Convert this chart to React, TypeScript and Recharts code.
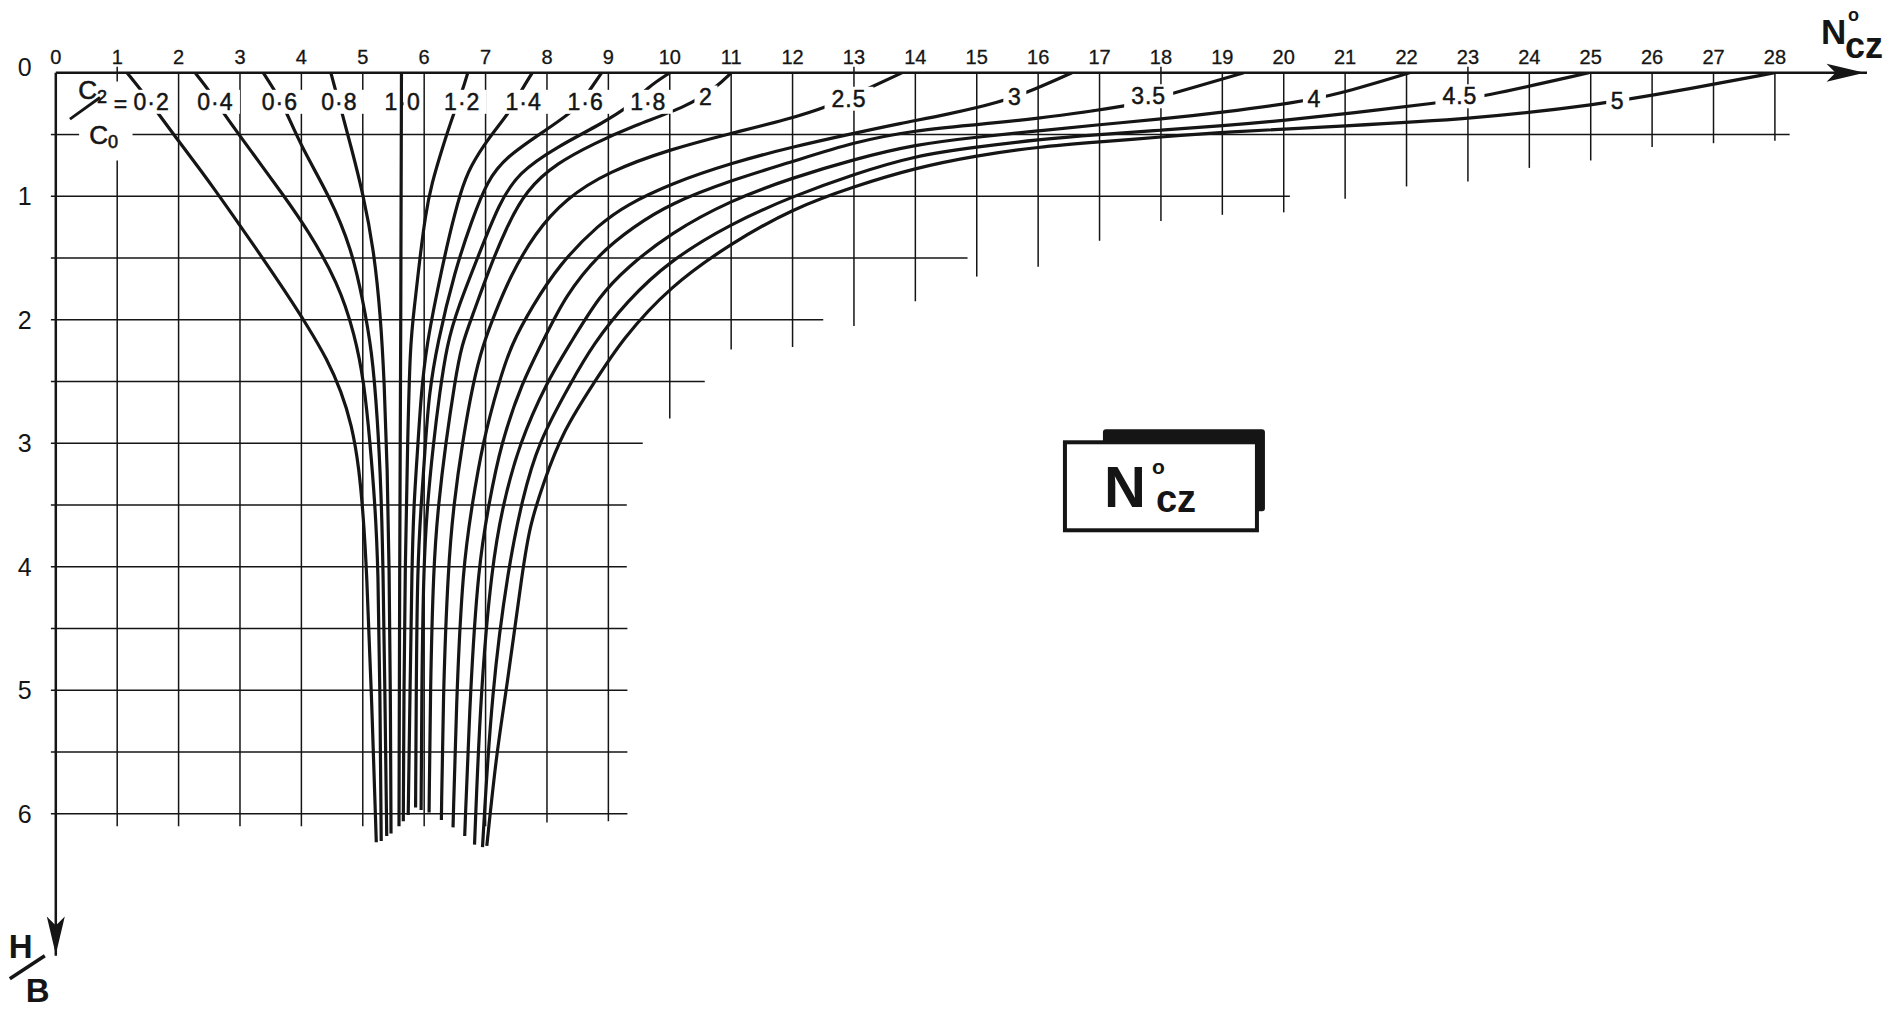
import { LineChart, Line, XAxis, YAxis, ReferenceLine, ReferenceDot } from "recharts";

const FONT = '"Liberation Sans", Arial, sans-serif';
const INK = "#151515";

// N°cz along the top, H/B going down
const xTicks = [0, 1, 2, 3, 4, 5, 6, 7, 8, 9, 10, 11, 12, 13, 14, 15, 16, 17, 18, 19, 20, 21, 22, 23, 24, 25, 26, 27, 28];
const yTicks = [0, 1, 2, 3, 4, 5, 6];

// curves as [N°cz, H/B]
const c02 = [[1.16, 0], [1.42, 0.16], [1.6, 0.285], [2.1, 0.62], [2.5, 0.88], [3.3, 1.45], [3.75, 1.78], [4.1, 2.05], [4.42, 2.32], [4.65, 2.58], [4.82, 2.85], [4.94, 3.2], [5.01, 3.6], [5.06, 4.0], [5.14, 5.0], [5.22, 6.23]];
const c04 = [[2.27, 0], [2.51, 0.15], [2.69, 0.3], [3.16, 0.62], [3.72, 1.0], [4.1, 1.27], [4.6, 1.7], [4.87, 2.12], [5.02, 2.5], [5.12, 3.0], [5.2, 3.5], [5.25, 4.0], [5.28, 5.0], [5.3, 6.22]];
const c06 = [[3.38, 0], [3.6, 0.17], [3.74, 0.3], [4.02, 0.62], [4.46, 1.0], [4.82, 1.43], [5.0, 1.84], [5.15, 2.25], [5.24, 2.8], [5.3, 3.4], [5.33, 4.0], [5.36, 5.0], [5.39, 6.18]];
const c08 = [[4.48, 0], [4.56, 0.15], [4.65, 0.3], [4.82, 0.62], [5.0, 0.97], [5.18, 1.43], [5.29, 1.97], [5.35, 2.5], [5.4, 3.2], [5.43, 4.0], [5.45, 5.0], [5.46, 6.16]];
const c10 = [[5.63, 0], [5.62, 2.0], [5.6, 4.0], [5.59, 6.1]];
const c12 = [[6.71, 0], [6.62, 0.15], [6.5, 0.3], [6.3, 0.6], [6.12, 0.9], [6.02, 1.15], [5.93, 1.5], [5.84, 1.9], [5.77, 2.2], [5.73, 3.0], [5.69, 4.0], [5.67, 5.0], [5.66, 6.06]];
const c14 = [[7.76, 0], [7.56, 0.16], [7.42, 0.3], [7.03, 0.54], [6.75, 0.76], [6.6, 0.95], [6.4, 1.33], [6.22, 1.75], [6.04, 2.2], [5.95, 2.6], [5.9, 3.0], [5.83, 3.5], [5.8, 4.0], [5.77, 5.0], [5.74, 6.01]];
const c16 = [[8.89, 0], [8.67, 0.16], [8.47, 0.3], [7.9, 0.49], [7.34, 0.68], [7.03, 0.87], [6.78, 1.19], [6.5, 1.6], [6.21, 2.2], [6.08, 2.6], [6.02, 3.0], [5.95, 3.5], [5.89, 4.0], [5.87, 5.0], [5.86, 5.95]];
const c18 = [[10.0, 0], [9.63, 0.12], [9.38, 0.26], [8.9, 0.41], [8.16, 0.6], [7.53, 0.81], [7.22, 1.06], [6.9, 1.46], [6.55, 1.9], [6.37, 2.2], [6.25, 2.6], [6.15, 3.0], [6.05, 3.5], [5.99, 4.0], [5.96, 5.0], [5.95, 5.97]];
const c20 = [[11.0, 0], [10.75, 0.12], [10.3, 0.27], [9.4, 0.43], [8.78, 0.57], [8.16, 0.73], [7.66, 0.95], [7.34, 1.25], [7.05, 1.6], [6.8, 1.95], [6.61, 2.2], [6.5, 2.5], [6.35, 3.0], [6.23, 3.5], [6.15, 4.0], [6.1, 5.0], [6.08, 5.99]];
const c25 = [[13.78, 0], [13.2, 0.135], [12.6, 0.27], [11.9, 0.38], [11.0, 0.49], [10.0, 0.62], [9.0, 0.8], [8.3, 1.02], [7.8, 1.3], [7.4, 1.65], [7.15, 1.95], [6.96, 2.2], [6.8, 2.5], [6.62, 3.0], [6.48, 3.5], [6.39, 4.0], [6.31, 5.0], [6.28, 6.05]];
const c30 = [[16.55, 0], [15.95, 0.134], [15.38, 0.24], [14.5, 0.34], [13.75, 0.41], [13.0, 0.49], [12.0, 0.6], [11.0, 0.73], [10.0, 0.9], [9.3, 1.07], [8.86, 1.22], [8.2, 1.55], [7.75, 1.9], [7.42, 2.2], [7.22, 2.5], [6.95, 3.0], [6.78, 3.5], [6.63, 4.0], [6.53, 5.0], [6.47, 6.11]];
const c35 = [[19.35, 0], [18.1, 0.18], [17.44, 0.27], [17.0, 0.3], [16.0, 0.37], [15.0, 0.42], [14.0, 0.465], [13.0, 0.56], [12.0, 0.72], [11.0, 0.87], [10.0, 1.06], [9.4, 1.25], [8.86, 1.46], [8.3, 1.8], [7.91, 2.2], [7.6, 2.5], [7.25, 3.0], [7.05, 3.5], [6.88, 4.0], [6.75, 5.0], [6.66, 6.18]];
const c40 = [[22.05, 0], [20.85, 0.18], [20.2, 0.24], [19.0, 0.32], [18.0, 0.375], [17.0, 0.42], [16.0, 0.47], [15.0, 0.52], [14.0, 0.58], [13.0, 0.7], [12.0, 0.85], [11.0, 1.03], [10.0, 1.3], [9.3, 1.58], [8.86, 1.8], [8.37, 2.2], [8.0, 2.5], [7.55, 3.0], [7.28, 3.5], [7.1, 4.0], [6.92, 5.0], [6.82, 6.25]];
const c45 = [[24.97, 0], [23.19, 0.2], [22.54, 0.24], [21.04, 0.33], [20.03, 0.385], [19.0, 0.43], [18.0, 0.465], [17.0, 0.5], [16.0, 0.54], [15.0, 0.6], [14.0, 0.67], [13.0, 0.82], [12.0, 1.0], [11.0, 1.22], [10.0, 1.52], [9.3, 1.85], [8.75, 2.2], [8.4, 2.5], [7.85, 3.0], [7.6, 3.45], [7.37, 4.0], [7.1, 5.0], [6.95, 6.27]];
const c50 = [[28.0, 0], [26.5, 0.14], [25.1, 0.26], [23.05, 0.375], [21.0, 0.43], [19.0, 0.48], [18.0, 0.52], [17.0, 0.56], [16.0, 0.6], [15.0, 0.67], [14.0, 0.77], [13.0, 0.92], [12.0, 1.1], [11.0, 1.38], [10.0, 1.73], [9.22, 2.16], [8.78, 2.5], [8.27, 2.89], [7.94, 3.32], [7.72, 3.67], [7.61, 4.0], [7.34, 5.0], [7.18, 5.5], [7.02, 6.26]];

const curves = [c02, c04, c06, c08, c10, c12, c14, c16, c18, c20, c25, c30, c35, c40, c45, c50];

// C2/C0 labels and where they sit on the curves
const ratioText = ["0·2", "0·4", "0·6", "0·8", "1·0", "1·2", "1·4", "1·6", "1·8", "2", "2.5", "3", "3.5", "4", "4.5", "5"];
const ratioX = [1.56, 2.6, 3.65, 4.62, 5.65, 6.62, 7.62, 8.63, 9.65, 10.59, 12.92, 15.62, 17.8, 20.5, 22.87, 25.44];
const ratioY = [0.235, 0.235, 0.235, 0.235, 0.235, 0.235, 0.235, 0.235, 0.235, 0.2, 0.21, 0.2, 0.19, 0.21, 0.19, 0.23];

// grid pieces: vertical lines [x, from, to], horizontal lines [y, from, to]
const vGridX = [1, 1, 2, 3, 4, 5, 6, 7, 8, 9, 10, 11, 12, 13, 14, 15, 16, 17, 18, 19, 20, 21, 22, 23, 24, 25, 26, 27, 28];
const vGridFrom = [-0.05, 0.71, 0, 0, 0, 0, 0, 0, 0, 0, 0, 0, 0, -0.05, 0, 0, 0, 0, -0.05, 0, 0, 0, 0, -0.05, 0, 0, 0, 0, 0];
const vGridTo = [0.07, 6.1, 6.1, 6.1, 6.1, 6.1, 6.1, 6.1, 6.07, 6.06, 2.8, 2.24, 2.22, 2.05, 1.85, 1.65, 1.57, 1.36, 1.2, 1.15, 1.13, 1.02, 0.92, 0.88, 0.77, 0.71, 0.6, 0.57, 0.55];
const hGridY = [0.5, 0.5, 1, 1.5, 2, 2.5, 3, 3.5, 4, 4.5, 5, 5.5, 6];
const hGridFrom = [-0.08, 1.25, -0.08, -0.08, -0.08, -0.08, -0.08, -0.08, -0.08, -0.08, -0.08, -0.08, -0.08];
const hGridTo = [0.38, 28.24, 20.1, 14.85, 12.5, 10.57, 9.56, 9.3, 9.3, 9.31, 9.31, 9.31, 9.31];

const toPoints = (arr: number[][]) => arr.map(([x, y]) => ({ x, y }));

function TopTick({ x, y, payload }: any) {
  return (
    <text x={x} y={y} textAnchor="middle" fontSize={20} fontFamily={FONT} fill={INK} stroke={INK} strokeWidth={0.3}>
      {payload.value}
    </text>
  );
}

function LeftTick({ x, y, payload }: any) {
  const lift = payload.value === 0 ? -6 : 0;
  return (
    <text x={x - 31} y={y + 9 + lift} textAnchor="middle" fontSize={25} fontFamily={FONT} fill={INK}>
      {payload.value}
    </text>
  );
}

const curveLabel = (text: string, boxed: boolean) => (p: any) => {
  const w = text.length * 13 + 10;
  return (
    <g>
      {boxed && <rect x={p.cx - w / 2} y={p.cy - 12} width={w} height={24} fill="#fff" />}
      <text x={p.cx} y={p.cy + 8} textAnchor="middle" fontSize={23} fontFamily={FONT} fill={INK} stroke={INK} strokeWidth={0.5} letterSpacing={1}>
        {text}
      </text>
    </g>
  );
};

const subLabel = (main: string, sub: string) => (p: any) => (
  <text x={p.cx} y={p.cy + 9} textAnchor="middle" fontSize={26} fontFamily={FONT} fill={INK} stroke={INK} strokeWidth={0.6}>
    {main}
    <tspan fontSize={18} dy={4}>{sub}</tspan>
  </text>
);

function ArrowRight({ cx, cy }: any) {
  return <path d={`M${cx},${cy} L${cx - 38},${cy - 9} L${cx - 29},${cy} L${cx - 38},${cy + 9} Z`} fill={INK} />;
}

function ArrowDown({ cx, cy }: any) {
  return <path d={`M${cx},${cy} L${cx - 9},${cy - 38} L${cx},${cy - 29} L${cx + 9},${cy - 38} Z`} fill={INK} />;
}

function NczBox({ cx, cy }: any) {
  return (
    <g>
      <rect x={cx - 58} y={cy - 56} width={162} height={82} rx={3} fill={INK} />
      <rect x={cx - 96} y={cy - 43} width={192} height={88} fill="#fff" stroke={INK} strokeWidth={4} />
      <text fontFamily={FONT} fill={INK} fontWeight="bold">
        <tspan x={cx - 57} y={cy + 22} fontSize={58}>N</tspan>
        <tspan x={cx - 9} y={cy - 11} fontSize={21}>o</tspan>
        <tspan x={cx - 5} y={cy + 27} fontSize={38}>cz</tspan>
      </text>
    </g>
  );
}

function AxisTitleX({ cx, cy }: any) {
  return (
    <text fontFamily={FONT} fill={INK} fontWeight="bold">
      <tspan x={cx - 46} y={cy - 29} fontSize={35}>N</tspan>
      <tspan x={cx - 19} y={cy - 52} fontSize={18}>o</tspan>
      <tspan x={cx - 22} y={cy - 15} fontSize={36}>cz</tspan>
    </text>
  );
}

function AxisTitleY({ cx, cy }: any) {
  return (
    <g>
      <text fontFamily={FONT} fill={INK} fontWeight="bold" fontSize={33}>
        <tspan x={cx - 47} y={cy + 2}>H</tspan>
        <tspan x={cx - 30} y={cy + 46}>B</tspan>
      </text>
      <line x1={cx - 46} y1={cy + 23} x2={cx - 11} y2={cy} stroke={INK} strokeWidth={3.5} />
    </g>
  );
}

export default function App() {
  return (
    <div style={{ position: "fixed", left: 0, top: 0, width: 1902, height: 1013, background: "#fff", overflow: "hidden" }}>
      <LineChart width={1902} height={1013} margin={{ top: 32.8, right: 35, bottom: 57.2, left: 0 }}>
        <XAxis
          type="number"
          dataKey="x"
          orientation="top"
          height={40}
          domain={[0, 29.5]}
          allowDataOverflow
          ticks={xTicks}
          interval={0}
          tick={<TopTick />}
          tickLine={false}
          tickSize={0}
          tickMargin={9}
          axisLine={{ stroke: INK, strokeWidth: 2.5 }}
        />
        <YAxis
          type="number"
          dataKey="y"
          reversed
          width={55.8}
          domain={[0, 7.15]}
          allowDataOverflow
          ticks={yTicks}
          interval={0}
          tick={<LeftTick />}
          tickLine={false}
          tickSize={0}
          tickMargin={0}
          axisLine={{ stroke: INK, strokeWidth: 2.5 }}
        />

        {vGridX.map((x, i) => (
          <ReferenceLine
            key={`v${i}`}
            segment={[{ x, y: vGridFrom[i] }, { x, y: vGridTo[i] }]}
            stroke={INK}
            strokeWidth={1.5}
            ifOverflow="visible"
          />
        ))}
        {hGridY.map((y, i) => (
          <ReferenceLine
            key={`h${i}`}
            segment={[{ x: hGridFrom[i], y }, { x: hGridTo[i], y }]}
            stroke={INK}
            strokeWidth={1.5}
            ifOverflow="visible"
          />
        ))}

        {curves.map((c, i) => (
          <Line
            key={ratioText[i]}
            data={toPoints(c)}
            dataKey="y"
            type="basis"
            stroke={INK}
            strokeWidth={3.2}
            dot={false}
            activeDot={false}
            isAnimationActive={false}
          />
        ))}

        {ratioText.map((t, i) => (
          <ReferenceDot
            key={`l${i}`}
            x={ratioX[i]}
            y={ratioY[i]}
            r={0}
            ifOverflow="visible"
            shape={curveLabel(t, t !== "1·0")}
          />
        ))}

        <ReferenceDot x={0.6} y={0.14} r={0} ifOverflow="visible" shape={subLabel("C", "2")} />
        <ReferenceDot x={0.78} y={0.5} r={0} ifOverflow="visible" shape={subLabel("C", "0")} />
        <ReferenceLine segment={[{ x: 0.23, y: 0.375 }, { x: 0.72, y: 0.2 }]} stroke={INK} strokeWidth={2.8} ifOverflow="visible" />
        <ReferenceDot x={1.06} y={0.25} r={0} ifOverflow="visible" shape={curveLabel("=", false)} />

        <ReferenceDot x={18} y={3.34} r={0} ifOverflow="visible" shape={<NczBox />} />
        <ReferenceDot x={29.46} y={0} r={0} ifOverflow="visible" shape={<ArrowRight />} />
        <ReferenceDot x={29.5} y={0} r={0} ifOverflow="visible" shape={<AxisTitleX />} />
        <ReferenceDot x={0} y={7.14} r={0} ifOverflow="visible" shape={<ArrowDown />} />
        <ReferenceDot x={0} y={7.15} r={0} ifOverflow="visible" shape={<AxisTitleY />} />
      </LineChart>
    </div>
  );
}
